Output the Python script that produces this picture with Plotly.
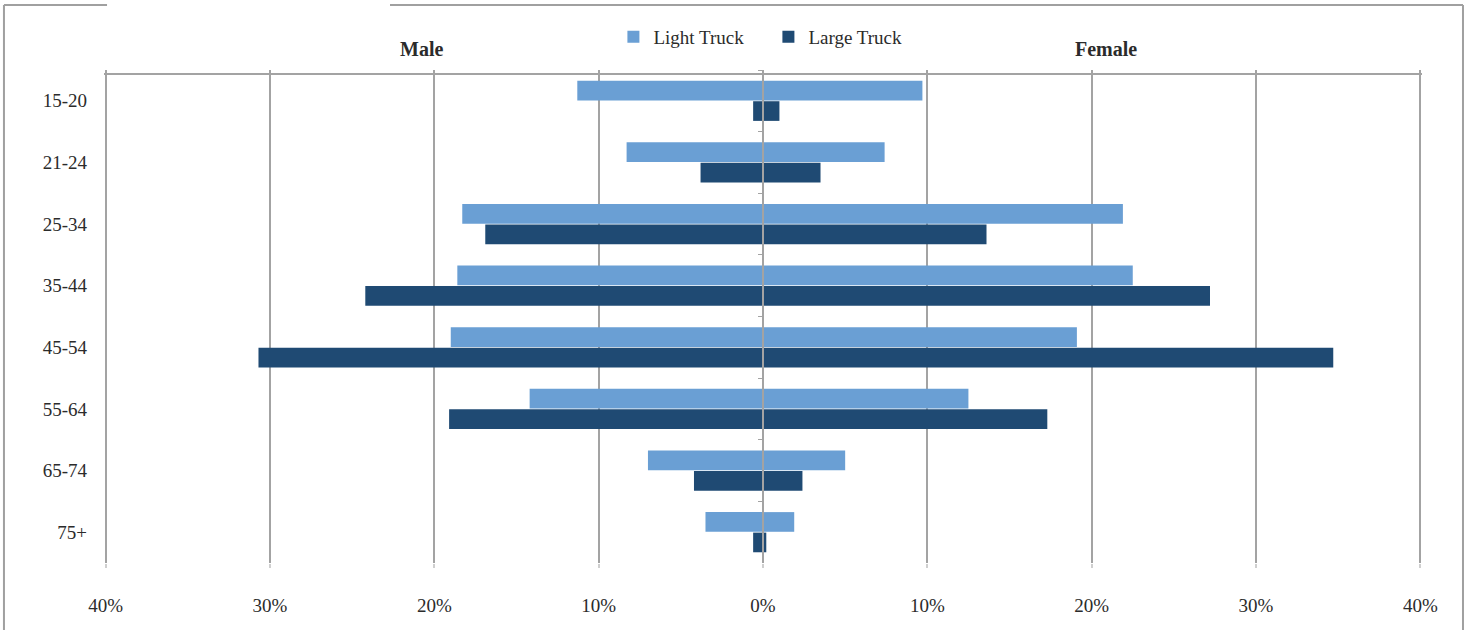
import plotly.graph_objects as go

# ---- data ----
age_groups = ["15-20", "21-24", "25-34", "35-44", "45-54", "55-64", "65-74", "75+"]
light_male = [11.3, 8.3, 18.3, 18.6, 19.0, 14.2, 7.0, 3.5]
light_female = [9.7, 7.4, 21.9, 22.5, 19.1, 12.5, 5.0, 1.9]
large_male = [0.6, 3.8, 16.9, 24.2, 30.7, 19.1, 4.2, 0.6]
large_female = [1.0, 3.5, 13.6, 27.2, 34.7, 17.3, 2.4, 0.2]
tick_vals = [-40, -30, -20, -10, 0, 10, 20, 30, 40]
tick_text = ["40%", "30%", "20%", "10%", "0%", "10%", "20%", "30%", "40%"]

LIGHT = "#6A9FD4"
DARK = "#1F4A73"
GRID = "#A3A3A3"
FONT = "Liberation Serif"
TXT = "#2B2B2B"
XR = [-40.1, 40.1]

fig = go.Figure()
fig.add_trace(go.Bar(y=age_groups, x=[-v for v in light_male], orientation="h",
                     name="Light Truck", marker=dict(color=LIGHT, line=dict(width=0)),
                     offsetgroup="light", legendgroup="light", showlegend=True))
fig.add_trace(go.Bar(y=age_groups, x=light_female, orientation="h",
                     name="Light Truck", marker=dict(color=LIGHT, line=dict(width=0)),
                     offsetgroup="light", legendgroup="light", showlegend=False))
fig.add_trace(go.Bar(y=age_groups, x=[-v for v in large_male], orientation="h",
                     name="Large Truck", marker=dict(color=DARK, line=dict(width=0)),
                     offsetgroup="large", legendgroup="large", showlegend=True))
fig.add_trace(go.Bar(y=age_groups, x=large_female, orientation="h",
                     name="Large Truck", marker=dict(color=DARK, line=dict(width=0)),
                     offsetgroup="large", legendgroup="large", showlegend=False))
# helper trace so the overlay axes (top line, centre axis) are drawn
fig.add_trace(go.Scatter(x=[0], y=[age_groups[0]], xaxis="x2", yaxis="y2",
                         mode="markers", marker=dict(size=0, opacity=0),
                         showlegend=False, hoverinfo="skip"))

fig.update_layout(
    width=1468, height=630,
    margin=dict(l=104, r=46, t=70, b=67),
    paper_bgcolor="white", plot_bgcolor="white",
    barmode="group", bargap=0.335, bargroupgap=0.04,
    font=dict(family=FONT, size=19, color=TXT),
    showlegend=True,
    legend=dict(orientation="h", x=0.3865, y=1.067, xanchor="left", yanchor="middle",
                font=dict(family=FONT, size=19, color=TXT), bgcolor="rgba(0,0,0,0)",
                itemwidth=30, entrywidth=110, entrywidthmode="pixels",
                traceorder="normal"),
    xaxis=dict(range=XR, tickvals=tick_vals, ticktext=tick_text,
               showgrid=True, gridcolor=GRID, gridwidth=2, zeroline=False,
               showline=False, ticks="outside", ticklen=4, tickwidth=2, tickcolor="#CFCFCF",
               ticklabelstandoff=21,
               tickfont=dict(family=FONT, size=19, color=TXT), fixedrange=True),
    xaxis2=dict(range=XR, matches="x", overlaying="x", side="top",
                anchor="free", position=0.992,
                tickvals=tick_vals, showticklabels=False, showgrid=False, zeroline=False,
                showline=True, linecolor=GRID, linewidth=2, ticks="",
                layer="above traces"),
    yaxis=dict(categoryorder="array", categoryarray=age_groups, autorange="reversed",
               showgrid=False, zeroline=False, showline=False, ticks="",
               ticklabelstandoff=16, tickfont=dict(family=FONT, size=19, color=TXT)),
    yaxis2=dict(matches="y", overlaying="y", anchor="free", position=0.5,
                showticklabels=False, showgrid=False, zeroline=False,
                showline=True, linecolor=GRID, linewidth=2,
                ticks="outside", ticklen=4, tickwidth=1, tickcolor=GRID,
                tickson="boundaries", layer="above traces"),
    annotations=[
        dict(text="<b>Male</b>", x=-20.8, xref="x", y=1.0426, yref="paper",
             showarrow=False, font=dict(family=FONT, size=20, color=TXT),
             xanchor="center", yanchor="middle"),
        dict(text="<b>Female</b>", x=20.9, xref="x", y=1.0426, yref="paper",
             showarrow=False, font=dict(family=FONT, size=20, color=TXT),
             xanchor="center", yanchor="middle"),
    ],
    shapes=[
        dict(type="line", xref="paper", yref="paper", x0=-0.0759, x1=-0.0759, y0=-0.14, y1=1.132,
             line=dict(color="#A0A0A0", width=2)),
        dict(type="line", xref="paper", yref="paper", x0=1.0311, x1=1.0311, y0=-0.14, y1=1.132,
             line=dict(color="#A0A0A0", width=2)),
        dict(type="line", xref="paper", yref="paper", x0=-0.0759, x1=0.0023, y0=1.132, y1=1.132,
             line=dict(color="#A0A0A0", width=2)),
        dict(type="line", xref="paper", yref="paper", x0=0.2170, x1=1.0311, y0=1.132, y1=1.132,
             line=dict(color="#A0A0A0", width=2)),
    ],
)

fig.write_html("out.html")
